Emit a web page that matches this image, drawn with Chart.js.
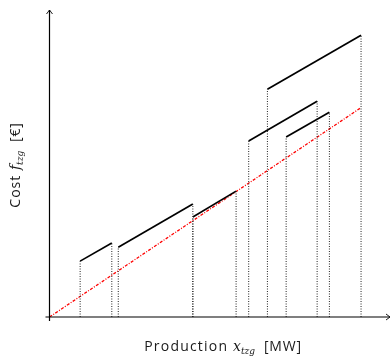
<!DOCTYPE html>
<html>
<head>
<meta charset="utf-8">
<script src="https://cdn.jsdelivr.net/npm/chart.js@4"></script>
<style>
  html, body { margin: 0; padding: 0; background: #fff; }
  #wrap { width: 391px; height: 356px; position: relative; }
</style>
</head>
<body>
<div id="wrap"><canvas id="costChart"></canvas></div>
<script>
// Tramos de coste (unidades relativas, 0-100 en cada eje)
var segStartX = [9.0, 20.2, 42.1, 58.5, 64.0, 69.5];
var segEndX   = [18.3, 42.1, 54.8, 78.6, 91.5, 82.2];
var segStartY = [18.2, 22.7, 32.6, 57.3, 74.2, 58.6];
var segEndY   = [24.1, 36.8, 41.0, 70.3, 91.8, 66.7];
// Recta de coste medio (roja)
var avgX = [0, 91.5];
var avgY = [0, 68.2];

var datasets = [];

// Lineas punteadas verticales desde cada extremo hasta el eje
segStartX.forEach(function(x, i) {
    [[x, segStartY[i]], [segEndX[i], segEndY[i]]].forEach(function(p) {
        datasets.push({
            data: [{ x: p[0], y: 0 }, { x: p[0], y: p[1] }],
            borderColor: '#222',
            borderWidth: 1,
            borderDash: [1, 1.5],
            pointRadius: 0,
            showLine: true
        });
    });
});

// Tramos
segStartX.forEach(function(x, i) {
    datasets.push({
        data: [{ x: x, y: segStartY[i] }, { x: segEndX[i], y: segEndY[i] }],
        borderColor: '#000',
        borderWidth: 1.7,
        pointRadius: 0,
        showLine: true
    });
});

// Recta roja
datasets.push({
    data: avgX.map(function(x, i) { return { x: x, y: avgY[i] }; }),
    borderColor: '#ff0000',
    borderWidth: 1.3,
    borderDash: [3, 1.5, 1, 1.5],
    pointRadius: 0,
    showLine: true
});

// Ejes con flechas y titulos
var axesPlugin = {
    id: 'axesPlugin',
    afterDatasetsDraw: function(chart) {
        var ctx = chart.ctx;
        var xs = chart.scales.x, ys = chart.scales.y;
        var x0 = xs.getPixelForValue(0), y0 = ys.getPixelForValue(0);
        var xEnd = xs.getPixelForValue(100), yEnd = ys.getPixelForValue(100);
        ctx.save();
        ctx.strokeStyle = '#000';
        ctx.lineWidth = 1.2;
        ctx.beginPath();
        ctx.moveTo(x0 - 4, y0); ctx.lineTo(xEnd, y0);
        ctx.moveTo(x0, y0 + 4); ctx.lineTo(x0, yEnd);
        ctx.stroke();
        ctx.lineWidth = 0.9;
        ctx.beginPath();
        ctx.moveTo(xEnd - 4, y0 - 3); ctx.lineTo(xEnd, y0); ctx.lineTo(xEnd - 4, y0 + 3);
        ctx.moveTo(x0 - 3, yEnd + 4); ctx.lineTo(x0, yEnd); ctx.lineTo(x0 + 3, yEnd + 4);
        ctx.stroke();

        // titulo eje x
        ctx.fillStyle = '#1a1a1a';
        ctx.textBaseline = 'alphabetic';
        var parts = [
            { t: 'Production ', f: '14px "Open Sans"', ls: 1.2 },
            { t: 'x', f: 'italic 14px "DejaVu Serif"' },
            { t: 'tzg', f: 'italic 9px "DejaVu Serif"', dy: 3 },
            { t: '  [MW]', f: '14px "Open Sans"', ls: 0.8 }
        ];
        drawParts(ctx, parts, 223, 351);

        // titulo eje y (rotado)
        ctx.translate(20, 165);
        ctx.rotate(-Math.PI / 2);
        var partsY = [
            { t: 'Cost ', f: '14px "Open Sans"', ls: 1.0 },
            { t: 'f', f: 'italic 14px "DejaVu Serif"' },
            { t: 'tzg', f: 'italic 9px "DejaVu Serif"', dy: 3 },
            { t: '  [€]', f: '14px "Open Sans"', ls: 0.8 }
        ];
        drawParts(ctx, partsY, 0, 0);
        ctx.restore();
    }
};

function drawParts(ctx, parts, cx, baseY) {
    var total = 0;
    parts.forEach(function(p) {
        ctx.font = p.f;
        ctx.letterSpacing = (p.ls || 0) + 'px';
        total += ctx.measureText(p.t).width;
    });
    var x = cx - total / 2;
    parts.forEach(function(p) {
        ctx.font = p.f;
        ctx.letterSpacing = (p.ls || 0) + 'px';
        ctx.fillText(p.t, x, baseY + (p.dy || 0));
        x += ctx.measureText(p.t).width;
    });
    ctx.letterSpacing = '0px';
}

var ctx = document.getElementById('costChart').getContext('2d');
new Chart(ctx, {
    type: 'scatter',
    data: { datasets: datasets },
    options: {
        responsive: true,
        maintainAspectRatio: false,
        animation: false,
        layout: { padding: { left: 49.5, right: 1, top: 10, bottom: 39 } },
        plugins: { legend: { display: false }, tooltip: { enabled: false } },
        scales: {
            x: { type: 'linear', min: 0, max: 100, display: false },
            y: { type: 'linear', min: 0, max: 100, display: false }
        }
    },
    plugins: [axesPlugin]
});
</script>
</body>
</html>
